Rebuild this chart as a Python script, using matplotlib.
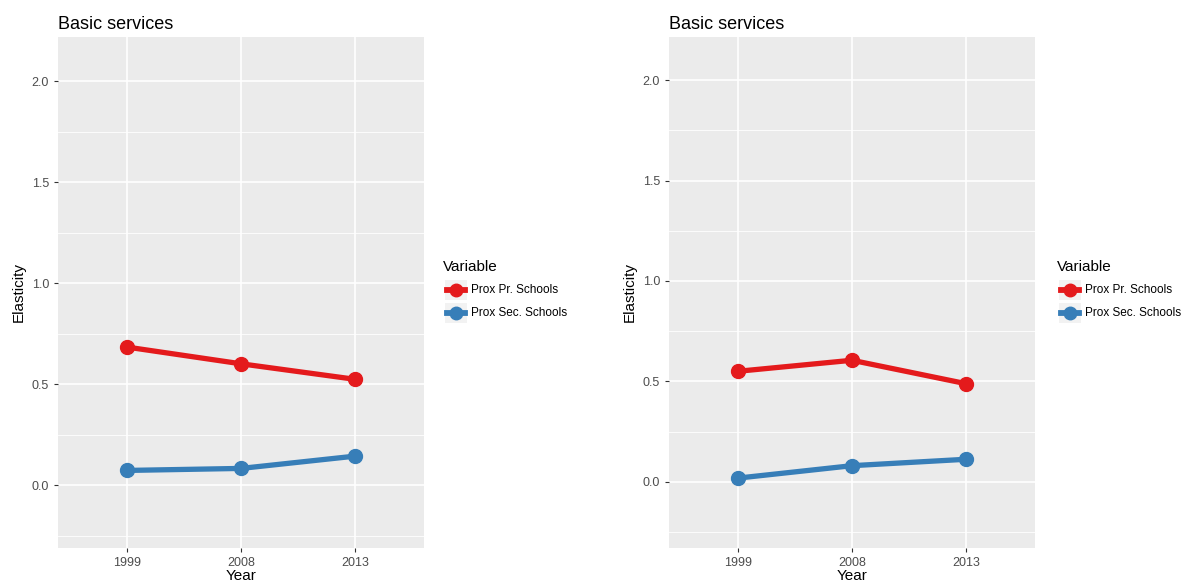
import matplotlib
matplotlib.use('Agg')
import matplotlib.pyplot as plt
from matplotlib.lines import Line2D
from matplotlib.patches import Rectangle
import numpy as np

# data
years = ['1999', '2008', '2013']
series_names = ['Prox Pr. Schools', 'Prox Sec. Schools']
left_pr = [0.685, 0.602, 0.525]
left_sec = [0.074, 0.084, 0.145]
right_pr = [0.550, 0.605, 0.488]
right_sec = [0.018, 0.080, 0.112]
yticks = [0.0, 0.5, 1.0, 1.5, 2.0]
colors = ['#E41A1C', '#377EB8']

plt.rcParams['font.family'] = ['Liberation Sans', 'DejaVu Sans']

fig = plt.figure(figsize=(11.86, 5.83), dpi=100)
W, H = 1186, 583


def panel(x0, pr, sec, ylim, leg_x):
    ax = fig.add_axes([x0 / W, 1 - 548 / H, 366 / W, (548 - 37) / H])
    ax.set_facecolor('#EBEBEB')
    for s in ax.spines.values():
        s.set_visible(False)
    xs = np.arange(1, len(years) + 1)
    for v in [-0.25, 0.25, 0.75, 1.25, 1.75]:
        ax.axhline(v, color='white', lw=0.6, zorder=0)
    for v in yticks:
        ax.axhline(v, color='white', lw=1.2, zorder=0)
    for x in xs:
        ax.axvline(x, color='white', lw=1.2, zorder=0)
    for vals, c in zip([pr, sec], colors):
        ax.plot(xs, vals, color=c, lw=3.8, marker='o', ms=10, zorder=3,
                solid_capstyle='butt')
    ax.set_xlim(0.4, 3.6)
    ax.set_ylim(*ylim)
    ax.set_xticks(xs)
    ax.set_xticklabels(years)
    ax.set_yticks(yticks)
    ax.set_yticklabels(['%.1f' % v for v in yticks])
    ax.tick_params(colors='#333333', labelcolor='#4D4D4D', labelsize=9,
                   length=3, width=0.8)
    ax.set_xlabel('Year', fontsize=11, labelpad=0)
    ax.set_ylabel('Elasticity', fontsize=11, labelpad=4)
    ax.set_title('Basic services', loc='left', fontsize=13, pad=6)

    # legend
    fig.text(leg_x / W, 1 - 267 / H, 'Variable', fontsize=11,
             va='center', ha='left')
    for i, (name, c) in enumerate(zip(series_names, colors)):
        yc = 290 + 23 * i
        fig.add_artist(Rectangle(((leg_x + 2) / W, 1 - (yc + 10) / H),
                                 22 / W, 20 / H, transform=fig.transFigure,
                                 facecolor='#F2F2F2', edgecolor='none'))
        fig.add_artist(Line2D([(leg_x + 4) / W, (leg_x + 22) / W],
                              [1 - yc / H, 1 - yc / H], color=c, lw=4.2,
                              transform=fig.transFigure))
        fig.add_artist(Line2D([(leg_x + 13) / W], [1 - yc / H], color=c,
                              marker='o', ms=9, transform=fig.transFigure))
        fig.text((leg_x + 28) / W, 1 - yc / H, name, fontsize=8.5,
                 va='center', ha='left')
    return ax


panel(58, left_pr, left_sec, (-0.31, 2.22), 443)
panel(669, right_pr, right_sec, (-0.33, 2.215), 1057)

fig.savefig('out.png', dpi=100)
